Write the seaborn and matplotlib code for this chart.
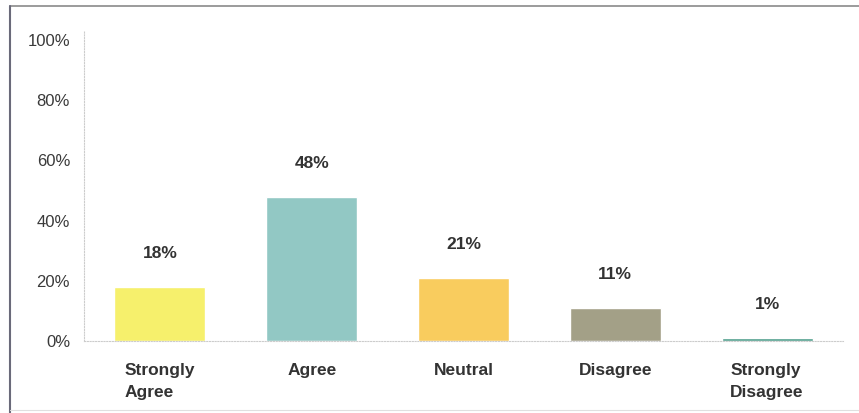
import matplotlib
matplotlib.use("Agg")
import matplotlib.pyplot as plt
from matplotlib.lines import Line2D
from matplotlib.ticker import FuncFormatter
import seaborn as sns
import pandas as pd

categories = ["Strongly\nAgree", "Agree", "Neutral", "Disagree", "Strongly\nDisagree"]
values = [18, 48, 21, 11, 1]
value_labels = ["18%", "48%", "21%", "11%", "1%"]
bar_colors = ["#f6f06c", "#92c8c4", "#f9cc5e", "#a3a087", "#4f9e8c"]
y_ticks = [0, 20, 40, 60, 80, 100]

sns.set_theme(style="white")
plt.rcParams["font.family"] = ["Liberation Sans", "DejaVu Sans"]

W, H = 859, 413
fig = plt.figure(figsize=(W / 100, H / 100), dpi=100)
fig.patch.set_facecolor("white")

# axes box in pixel terms
left, right, bottom, top = 84, 843, 341, 40
ax = fig.add_axes([left / W, 1 - bottom / H, (right - left) / W, (bottom - top) / H])

df = pd.DataFrame({"category": categories, "value": values})
sns.barplot(data=df, x="category", y="value", hue="category", palette=bar_colors,
            legend=False, width=0.6, saturation=1, ax=ax)

ax.set_ylim(0, 100)
ax.set_xlim(-0.5, len(categories) - 0.5)
ax.set_yticks(y_ticks)
ax.yaxis.set_major_formatter(FuncFormatter(lambda v, p: f"{v:.0f}%"))
ax.set_xlabel("")
ax.set_ylabel("")

for s in ["top", "right"]:
    ax.spines[s].set_visible(False)
for s in ["left", "bottom"]:
    ax.spines[s].set_color("#cccccc")
    ax.spines[s].set_linestyle((0, (1, 1.5)))
    ax.spines[s].set_linewidth(0.8)
ax.spines["left"].set_bounds(0, 103)

ax.tick_params(axis="both", length=0)
ax.tick_params(axis="y", pad=10, labelsize=12, labelcolor="#3a3a3a")
ax.tick_params(axis="x", pad=16, labelsize=12.5, labelcolor="#333333")
for lab in ax.get_xticklabels():
    lab.set_fontweight("bold")
    lab.set_multialignment("left")
    lab.set_linespacing(1.55)

for i, (v, txt) in enumerate(zip(values, value_labels)):
    ax.annotate(txt, (i, v), xytext=(0, 24), textcoords="offset points",
                ha="center", va="center", fontsize=12.5, fontweight="bold",
                color="#333333")

# scanned page frame
fig.add_artist(Line2D([10 / W, 1], [1 - 6 / H, 1 - 6 / H], transform=fig.transFigure,
                      color="#8a8a8a", lw=1.2))
fig.add_artist(Line2D([10 / W, 10 / W], [0, 1 - 6 / H], transform=fig.transFigure,
                      color="#6a6a7a", lw=1.5))
fig.add_artist(Line2D([10 / W, 1], [1 - 410 / H, 1 - 410 / H], transform=fig.transFigure,
                      color="#e0e0e0", lw=0.8))

fig.savefig("out.png", dpi=100)
